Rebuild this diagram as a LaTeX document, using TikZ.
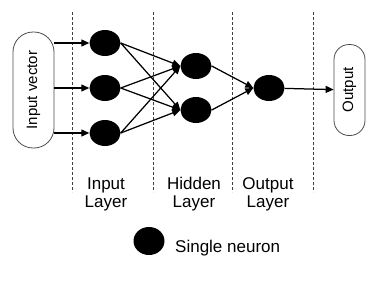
\documentclass[tikz,border=0pt]{standalone}
\usepackage{fontspec}
\setmainfont{Liberation Sans}
\usetikzlibrary{arrows.meta,shapes.geometric}

\begin{document}
\begin{tikzpicture}[x=1pt,y=-1pt,
  neuron/.style={ellipse,fill=black,minimum width=31pt,minimum height=26pt,inner sep=0pt},
  conn/.style={-{Triangle[length=8pt,width=7pt]},line width=1.25pt},
  sep/.style={line width=0.8pt,black!75,dash pattern=on 3pt off 2pt},
  lbl/.style={font=\fontsize{17}{18}\selectfont,align=center,inner sep=0pt}]
\useasboundingbox (0,0) rectangle (381,303);
\foreach \x in {72,153,232,313} \draw[sep] (\x,12)--(\x,192);
\node[draw=black!70,line width=0.8pt,rounded corners=20pt,minimum width=41pt,minimum height=116pt,inner sep=0pt] (invec) at (33.5,90) {\rotatebox{90}{\fontsize{15}{16}\selectfont Input vector}};
\node[draw=black!70,line width=0.8pt,rounded corners=15pt,minimum width=31pt,minimum height=91pt,inner sep=0pt] (out) at (349.5,90) {\rotatebox{90}{\fontsize{15}{16}\selectfont Output}};
\node[neuron] (in1) at (105,43) {};\node[neuron] (in2) at (105,88) {};\node[neuron] (in3) at (105,133) {};
\node[neuron] (hid1) at (196,66) {};\node[neuron] (hid2) at (196,110) {};
\node[neuron] (outn) at (269,88) {};
\draw[conn] (invec.east |- in1)--(in1);\draw[conn] (invec.east |- in2)--(in2);\draw[conn] (invec.east |- in3)--(in3);
\foreach \i in {in1,in2,in3} {\draw[conn] (\i.east)--(hid1.west);\draw[conn] (\i.east)--(hid2.west);}
\draw[conn] (hid1.east)--(outn.west);\draw[conn] (hid2.east)--(outn.west);
\draw[conn] (outn)--(out);
\node[lbl] (inlbl) at (106,194) {Input\\Layer};
\node[lbl] (hidlbl) at (194,194) {Hidden\\Layer};
\node[lbl] (outlbl) at (268,194) {Output\\Layer};
\node[neuron,minimum height=28pt] (legend) at (149,241) {};
\node[lbl,anchor=west] (legtxt) at (175,248) {Single neuron};
\end{tikzpicture}
\end{document}
